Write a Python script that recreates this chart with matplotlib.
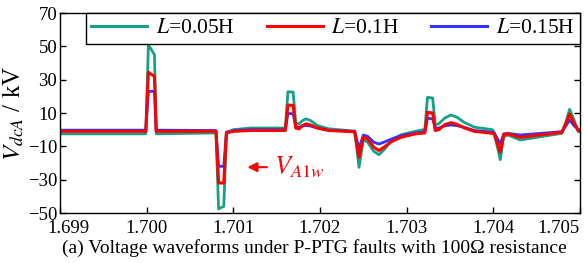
import matplotlib
matplotlib.use("Agg")
import matplotlib.pyplot as plt
import matplotlib.transforms as mtransforms
from matplotlib.lines import Line2D

plt.rcParams['font.family'] = ['Liberation Serif', 'DejaVu Serif']
plt.rcParams['mathtext.fontset'] = 'stix'

# time axis (s), breakpoints
t = [1.69900, 1.69999, 1.70002, 1.70003, 1.70009, 1.70011, 1.70013, 1.70078,
     1.70080, 1.70083, 1.70089, 1.70092, 1.70095, 1.70100, 1.70120, 1.70159,
     1.70160, 1.70163, 1.70169, 1.70172, 1.70176, 1.70180, 1.70184, 1.70189,
     1.70197, 1.70210, 1.70238, 1.70240, 1.70245, 1.70250, 1.70255, 1.70262,
     1.70268, 1.70274, 1.70283, 1.70294, 1.70310, 1.70320, 1.70321, 1.70324,
     1.70330, 1.70333, 1.70337, 1.70344, 1.70351, 1.70358, 1.70366, 1.70378,
     1.70399, 1.70401, 1.70408, 1.70412, 1.70417, 1.70431, 1.70479, 1.70484,
     1.70488, 1.70493, 1.70498, 1.70505]

v_005 = [-2.5, -2.5, 50.5, 50, 45, -2.5, -2.5, -2,
         -2, -47.5, -46, -2.5, -1.5, 0, 1, 1,
         1, 22.8, 22.5, 4, 3.5, 5.5, 6.5, 5.5,
         2.5, 0.5, -0.8, -0.8, -22.6, -6, -7.5, -13,
         -15, -12, -6, -3, -1, 0, 0, 19.4,
         19, 3, 3.5, 7, 8.8, 7.5, 4.5, 1.5,
         0, -2, -18, -4, -3.2, -6.2, -2.2, 5,
         12.2, 6, -1.2, -1.5]

v_01 = [-1, -1, 34.5, 34, 32, -1, -1, -1,
        -1, -32, -32, -2, -1.5, -1, -0.5, -0.5,
        -0.5, 14.8, 14.5, 1, 0.5, 2.5, 3.5, 2.8,
        1, -0.5, -1.2, -1.2, -16.6, -4.5, -5.5, -10.5,
        -12.5, -10.5, -7, -4.5, -2.5, -2, -2, 10.4,
        10, -0.5, 0, 3, 4.2, 3.2, 1.2, -1,
        -2.2, -2.5, -13.5, -3, -2.5, -4.6, -1.6, 4,
        9.4, 4, -0.5, -1]

v_015 = [-0.3, -0.3, 23, 23, 23, -0.3, -0.3, -0.5,
         -0.5, -22, -22, -1.5, -1, -0.5, 0, 0,
         0, 9.8, 9.5, 2, 1.5, 2.2, 2.5, 2.2,
         1, -0.3, -1, -1, -11.2, -3.2, -4, -7.5,
         -8.6, -7.5, -5.5, -3.5, -2, -1.5, -1.5, 6.8,
         6.5, 1, 1, 2.3, 2.8, 2.4, 1.5, -0.5,
         -1.5, -1.8, -8.7, -2.5, -2.2, -3.2, -1.2, 2.5,
         5.8, 2.5, 0, -0.5]

labels = ['$L$=0.05H', '$L$=0.1H', '$L$=0.15H']
colors = ['#16a085', '#ff0000', '#3333ff']

xticks = [1.699, 1.700, 1.701, 1.702, 1.703, 1.704, 1.705]
yticks = [-50, -30, -10, 10, 30, 50, 70]

fig = plt.figure(figsize=(5.84, 2.63), dpi=100)
ax = fig.add_axes([60 / 584, 50 / 263, 520 / 584, 200 / 263])

ax.plot(t, v_005, color=colors[0], lw=2.0)
ax.plot(t, v_015, color=colors[2], lw=2.0)
ax.plot(t, v_01, color=colors[1], lw=2.2)

ax.set_xlim(1.699, 1.705)
ax.set_ylim(-50, 70)
ax.set_xticks(xticks)
ax.set_xticklabels([f"{x:.3f}" for x in xticks])
ax.set_yticks(yticks)
ax.tick_params(direction='in', right=True, labelsize=13.5, length=4, width=1)
ax.tick_params(axis='x', pad=5)
ax.tick_params(axis='y', pad=2)
for s in ax.spines.values():
    s.set_linewidth(1.0)

# edge labels are pulled inside like in the original
xl = ax.get_xticklabels()
xl[0].set_transform(xl[0].get_transform() +
                    mtransforms.ScaledTranslation(8 / 100, 0, fig.dpi_scale_trans))
xl[-1].set_horizontalalignment('right')

ax.set_ylabel('$V_{dcA}$ / kV', fontsize=18, labelpad=1)

handles = [Line2D([], [], color=c, lw=2.2) for c in colors]
leg = ax.legend(handles, labels, loc='upper right', ncol=3, fontsize=15.5,
                frameon=True, fancybox=False, edgecolor='black', framealpha=1,
                borderaxespad=0, handlelength=2.6, columnspacing=1.5,
                handletextpad=0.4, borderpad=0.25, bbox_to_anchor=(1.0, 1.0))
leg.get_frame().set_linewidth(1.0)

ax.annotate('', xy=(1.70113, -22.5), xytext=(1.70142, -22.5),
            arrowprops=dict(arrowstyle='-|>', color='red', lw=1.5,
                            mutation_scale=14))
ax.text(1.70147, -22.5, '$V_{A1w}$', color='red', fontsize=19, va='center',
        ha='left')

fig.text(0.538, 0.058, '(a) Voltage waveforms under P-PTG faults with 100Ω resistance',
         ha='center', va='center', fontsize=14)

fig.savefig('out.png', dpi=100)
